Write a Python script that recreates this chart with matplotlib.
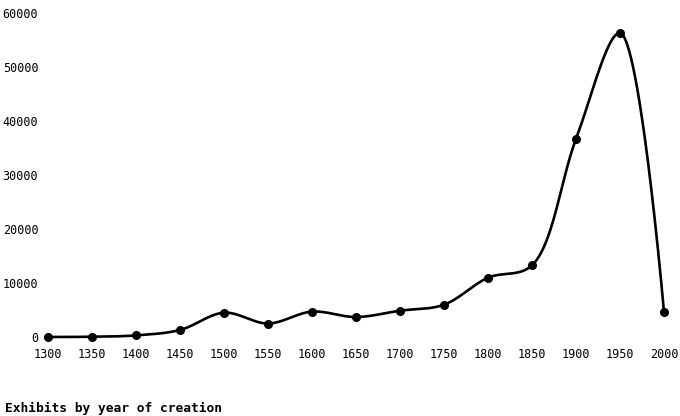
import numpy as np
import matplotlib
matplotlib.use("Agg")
import matplotlib.pyplot as plt

# -------------------------------------------------
# Data
# -------------------------------------------------
years = [1300, 1350, 1400, 1450, 1500, 1550, 1600, 1650, 1700, 1750,
         1800, 1850, 1900, 1950, 2000]
exhibits = [0, 50, 300, 1300, 4500, 2500, 4700, 3700, 4870, 5980,
            10980, 13280, 36670, 56300, 4630]
y_ticks = [0, 10000, 20000, 30000, 40000, 50000, 60000]
x_ticks = years
title = "Exhibits by year of creation"

# axes size in pixels, used to smooth in screen space
AX_W, AX_H = 616, 324
X_MIN, X_MAX = 1300, 2000
Y_MIN, Y_MAX = 0, 60000


def catmull_rom(xs, ys, alpha=0.5, n=60):
    # centripetal Catmull-Rom, computed in pixel space
    sx = AX_W / (X_MAX - X_MIN)
    sy = AX_H / (Y_MAX - Y_MIN)
    P = np.column_stack([(np.asarray(xs, float) - X_MIN) * sx,
                         (np.asarray(ys, float) - Y_MIN) * sy])
    P = np.vstack([P[0], P, P[-1]])
    t = np.linspace(0, 1, n)[:, None]
    pts = []
    for i in range(1, len(P) - 2):
        p0, p1, p2, p3 = P[i - 1], P[i], P[i + 1], P[i + 2]
        d01 = np.sum((p1 - p0) ** 2)
        d12 = np.sum((p2 - p1) ** 2)
        d23 = np.sum((p3 - p2) ** 2)
        l01_2a, l12_2a, l23_2a = d01 ** alpha, d12 ** alpha, d23 ** alpha
        l01_a, l12_a, l23_a = np.sqrt(l01_2a), np.sqrt(l12_2a), np.sqrt(l23_2a)
        c1, c2 = p1.copy(), p2.copy()
        if l01_a > 1e-9:
            a = 2 * l01_2a + 3 * l01_a * l12_a + l12_2a
            nn = 3 * l01_a * (l01_a + l12_a)
            c1 = (p1 * a - p0 * l12_2a + p2 * l01_2a) / nn
        if l23_a > 1e-9:
            b = 2 * l23_2a + 3 * l23_a * l12_a + l12_2a
            m = 3 * l23_a * (l23_a + l12_a)
            c2 = (p2 * b + p1 * l23_2a - p3 * l12_2a) / m
        seg = ((1 - t) ** 3) * p1 + 3 * ((1 - t) ** 2) * t * c1 \
            + 3 * (1 - t) * t ** 2 * c2 + t ** 3 * p2
        pts.append(seg)
    pts = np.vstack(pts)
    return pts[:, 0] / sx + X_MIN, pts[:, 1] / sy + Y_MIN


plt.rcParams['font.family'] = ['DejaVu Sans Mono']

fig = plt.figure(figsize=(6.8, 4.16), dpi=100)
ax = fig.add_axes([48 / 680, 1 - 337 / 416, AX_W / 680, AX_H / 416])

cx, cy = catmull_rom(years, exhibits)
ax.plot(cx, cy, color='black', linewidth=1.9, clip_on=False)
ax.plot(years, exhibits, 'o', color='black', markersize=5.5, clip_on=False)

ax.set_xlim(X_MIN, X_MAX)
ax.set_ylim(Y_MIN, Y_MAX)
ax.set_xticks(x_ticks)
ax.set_yticks(y_ticks)
ax.tick_params(length=0, labelsize=8.5, colors='black')
ax.tick_params(axis='y', pad=7)
ax.tick_params(axis='x', pad=8)
for s in ax.spines.values():
    s.set_visible(False)

fig.text(5 / 680, 1 - 408 / 416, title, fontsize=9.3, fontweight='bold',
         ha='left', va='center')

fig.savefig("out.png", dpi=100)
